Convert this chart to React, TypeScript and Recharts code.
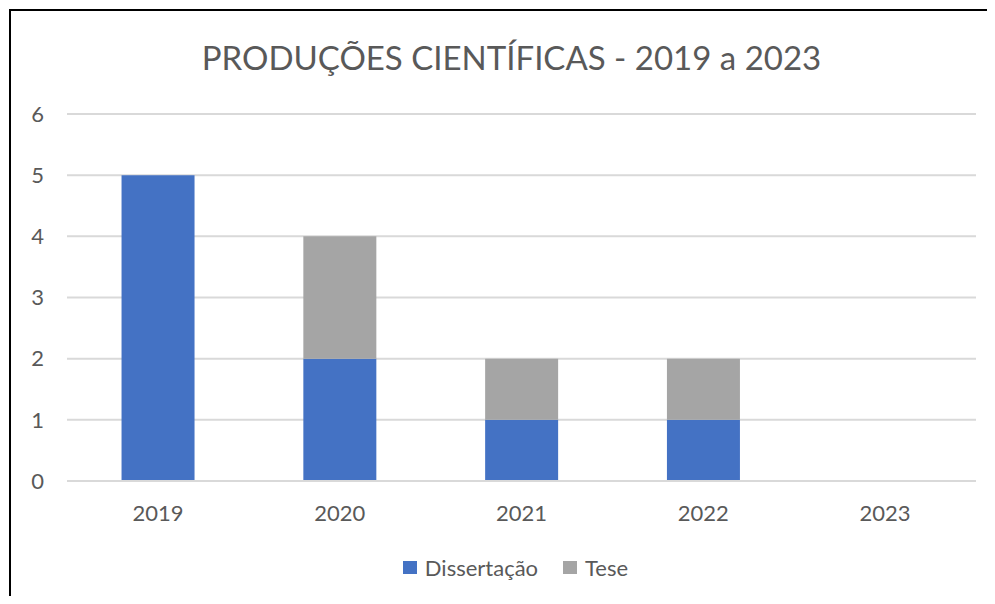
import { Bar, BarChart, CartesianGrid, XAxis, YAxis } from "recharts"

const years = ["2019", "2020", "2021", "2022", "2023"]
const dissertacao = [5, 2, 1, 1, 0]
const tese = [0, 2, 1, 1, 0]
const yTicks = [0, 1, 2, 3, 4, 5, 6]

const COLORS = {
    dissertacao: "#4472C4",
    tese: "#A5A5A5",
    grid: "#D9D9D9",
    text: "#595959",
}

const FONT = "Lato, 'Open Sans', sans-serif"

const chartData = years.map((year, i) => ({
    year,
    dissertacao: dissertacao[i],
    tese: tese[i],
}))

const legendItems = [
    { label: "Dissertação", color: COLORS.dissertacao },
    { label: "Tese", color: COLORS.tese },
]

export default function App() {
    return (
        <div style={{ position: "relative", margin: -8, width: 995, height: 604, overflow: "hidden", background: "#fff" }}>
            {/* frame of the screenshot: only left and top edges are visible */}
            <div style={{ position: "absolute", left: 9, top: 9, width: 2, height: 595, background: "#000" }} />
            <div style={{ position: "absolute", left: 9, top: 9, width: 986, height: 2, background: "#000" }} />
            <div
                style={{
                    position: "absolute",
                    left: 0,
                    width: 995,
                    top: 37,
                    textAlign: "center",
                    fontFamily: FONT,
                    fontSize: 33,
                    color: COLORS.text,
                    paddingLeft: 28,
                    boxSizing: "border-box",
                }}
            >
                PRODUÇÕES CIENTÍFICAS - 2019 a 2023
            </div>
            <BarChart
                width={995}
                height={604}
                data={chartData}
                margin={{ top: 114, right: 19, bottom: 93, left: 8 }}
                barCategoryGap="30%"
                style={{ position: "absolute", left: 0, top: 0 }}
            >
                <CartesianGrid horizontal vertical={false} stroke={COLORS.grid} strokeWidth={2} />
                <XAxis
                    dataKey="year"
                    height={30}
                    axisLine={{ stroke: COLORS.grid, strokeWidth: 2 }}
                    tickLine={false}
                    tickSize={0}
                    tickMargin={24}
                    tick={{ fill: COLORS.text, fontSize: 22, fontFamily: FONT }}
                />
                <YAxis
                    width={59}
                    domain={[0, 6]}
                    ticks={yTicks}
                    axisLine={false}
                    tickLine={false}
                    tickSize={0}
                    tickMargin={23}
                    tick={{ fill: COLORS.text, fontSize: 22, fontFamily: FONT }}
                />
                <Bar dataKey="dissertacao" name="Dissertação" stackId="a" fill={COLORS.dissertacao} isAnimationActive={false} />
                <Bar dataKey="tese" name="Tese" stackId="a" fill={COLORS.tese} isAnimationActive={false} />
            </BarChart>
            <div
                style={{
                    position: "absolute",
                    left: 0,
                    width: 995,
                    top: 554,
                    paddingLeft: 36,
                    boxSizing: "border-box",
                    display: "flex",
                    justifyContent: "center",
                    gap: 25,
                    fontFamily: FONT,
                    fontSize: 22,
                    color: COLORS.text,
                }}
            >
                {legendItems.map((item) => (
                    <div key={item.label} style={{ display: "flex", alignItems: "center", gap: 8 }}>
                        <span style={{ width: 14, height: 13, background: item.color, display: "inline-block" }} />
                        <span>{item.label}</span>
                    </div>
                ))}
            </div>
        </div>
    )
}
